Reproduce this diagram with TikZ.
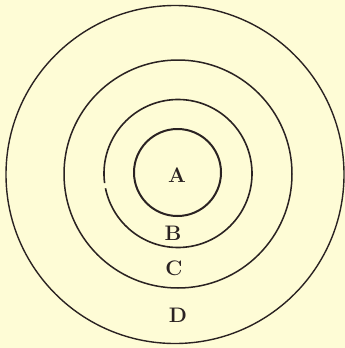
\documentclass[tikz,border=0pt]{standalone}
\begin{document}
\begin{tikzpicture}[x=1pt,y=-1pt,
  ring/.style={draw=inkc,line width=1.5pt},
  lab/.style={font=\fontsize{21}{24}\selectfont\bfseries,text=inkc,inner sep=0pt}]
\definecolor{bgc}{HTML}{FEFCD6}
\definecolor{inkc}{HTML}{2A2222}
\fill[bgc] (0,0) rectangle (345,348);
\useasboundingbox (0,0) rectangle (345,348);
\draw[ring,line width=1.4pt] (175,174.5) circle[radius=169];
\draw[ring] (178,174) circle[radius=114];
\draw[ring,line width=1.6pt] (178,173.5) ++(172.5:74) arc[start angle=172.5,end angle=528.5,radius=74];
\draw[ring,line width=2pt] (177.5,172.5) circle[radius=43.5];
\node[lab] (A) at (177,175) {A};
\node[lab] (B) at (173,233) {B};
\node[lab] (C) at (174,268) {C};
\node[lab] (D) at (178,315) {D};
\end{tikzpicture}
\end{document}
